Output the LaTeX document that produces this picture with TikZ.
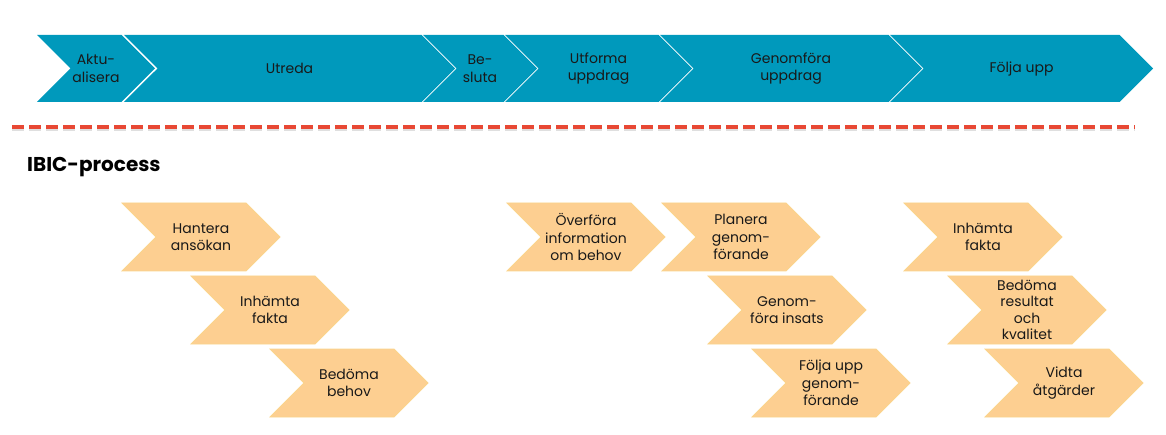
\documentclass[tikz,border=0pt]{standalone}
\usepackage{fontspec}
\setmainfont{Poppins}
\usepackage{tikz}
\usetikzlibrary{shapes.symbols,positioning}

\definecolor{phaseblue}{RGB}{0,153,188}
\definecolor{taskfill}{RGB}{253,207,145}
\definecolor{taskline}{RGB}{250,212,140}
\definecolor{sepred}{RGB}{232,72,52}

\begin{document}
\begin{tikzpicture}[
    x=1pt, y=-1pt,
    font=\fontsize{14}{17.5}\selectfont,
    chev/.style={
      shape=signal, signal from=west, signal to=east, signal pointer angle=90,
      inner sep=0pt, align=center, text=black!90
    },
    phase/.style={chev, fill=phaseblue, minimum height=67pt},
    task/.style={chev, fill=taskfill, draw=taskline, line width=0.8pt,
      minimum width=158pt, minimum height=68pt},
    sep/.style={sepred, line width=3.5pt, dash pattern=on 12pt off 5pt}
  ]
  \useasboundingbox (0,0) rectangle (1166,435);

  % huvudprocess
  \node[phase, minimum width=118pt] (aktu) at (96,68.5) {Aktu-\\alisera};
  \node[phase, minimum width=331pt] (utreda) at (289.5,68.5) {Utreda};
  \node[phase, minimum width=114pt] (besluta) at (480,68.5) {Be-\\sluta};
  \node[phase, minimum width=187pt] (utforma) at (598.5,68.5) {Utforma\\uppdrag};
  \node[phase, minimum width=262pt] (genomfora) at (791,68.5) {Genomföra\\uppdrag};
  \node[phase, minimum width=263pt] (foljaupp) at (1021.5,68.5) {Följa upp};

  % avgransning
  \draw[sep, gray!25] (12,129.5) -- (1135,129.5);
  \draw[sep] (12,127) -- (1135,127);

  \node[anchor=base west, inner sep=0pt, font=\fontsize{20}{24}\selectfont\bfseries]
    (ibic) at (27,172) {IBIC-process};

  % IBIC
  \node[task] (hantera) at (201,237) {Hantera\\ansökan};
  \node[task] (inhamta) at (270,310) {Inhämta\\fakta};
  \node[task] (bedoma) at (349,383) {Bedöma\\behov};

  \node[task] (overfora) at (586,237) {Överföra\\information\\om behov};
  \node[task] (planera) at (741,237) {Planera\\genom-\\förande};
  \node[task] (insats) at (787,310) {Genom-\\föra insats};
  \node[task] (foljgen) at (831,383) {Följa upp\\genom-\\förande};

  \node[task] (inhamtb) at (983,237) {Inhämta\\fakta};
  \node[task, font=\fontsize{14}{16.3}\selectfont] (resultat) at (1027,310)
    {Bedöma\\resultat\\och\\kvalitet};
  \node[task] (vidta) at (1064,383) {Vidta\\åtgärder};
\end{tikzpicture}
\end{document}
